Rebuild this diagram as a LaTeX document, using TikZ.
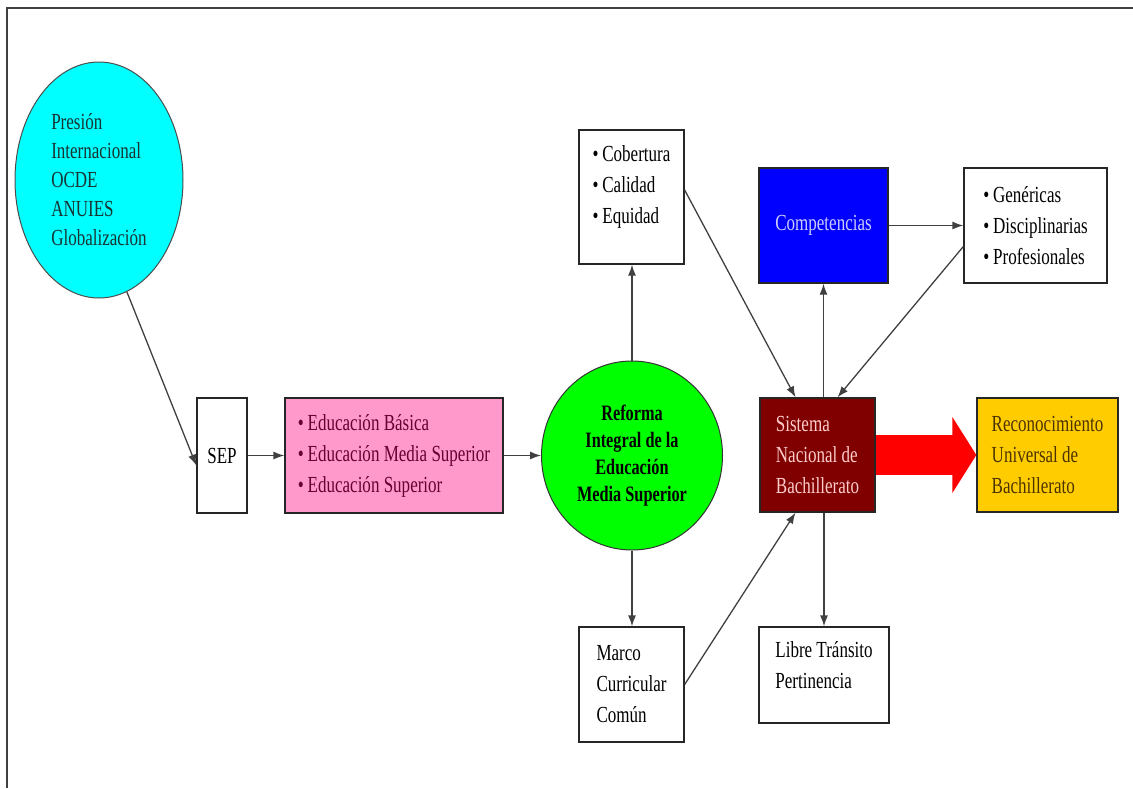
\documentclass[tikz,border=0pt]{standalone}
\usepackage{fontspec}
\setmainfont{Liberation Serif}[FakeStretch=0.74]
\usetikzlibrary{arrows.meta,shapes.geometric,calc}
\definecolor{pinkfill}{HTML}{FF99CC}
\definecolor{pinktext}{HTML}{660033}
\definecolor{snbfill}{HTML}{800000}
\definecolor{snbtext}{HTML}{FFCCCC}
\definecolor{compfill}{HTML}{0000FF}
\definecolor{comptext}{HTML}{CCCCFF}
\definecolor{rucfill}{HTML}{FFCC00}
\definecolor{ructext}{HTML}{4D3300}
\definecolor{cyanfill}{HTML}{00FFFF}
\definecolor{greenfill}{HTML}{00FF00}
\definecolor{elltext}{HTML}{1A3333}
\begin{document}
\begin{tikzpicture}[x=1pt,y=-1pt,
  box/.style={rectangle, draw=black!85, line width=1.3pt, inner sep=0pt, align=left,
    font=\fontsize{23}{31}\selectfont},
  conn/.style={draw=black!75, line width=1.3pt, -{Latex[length=11pt,width=8pt]}},
  bigarrow/.style={draw=red, line width=40pt, -{Triangle[length=24pt,width=75pt]}}
]
\useasboundingbox (0,0) rectangle (1133,788);
\draw[black!75, line width=2pt] (7,788) -- (7,8) -- (1133,8);

\node[ellipse, draw=black!70, line width=1pt, fill=cyanfill, inner sep=0pt,
  minimum width=168pt, minimum height=236pt, align=left,
  font=\fontsize{23}{29}\selectfont, text=elltext] (ell) at (99,180)
  {Presión\\Internacional\\OCDE\\ANUIES\\Globalización};

\node[box, minimum width=50pt, minimum height=115pt] (sep) at (222,455.5) {SEP};

\node[box, fill=pinkfill, text=pinktext, minimum width=218pt, minimum height=115pt]
  (pink) at (394,455.5)
  {\textbullet\,Educación Básica\\\textbullet\,Educación Media Superior\\\textbullet\,Educación Superior};

\node[ellipse, draw=black!80, line width=1pt, fill=greenfill, inner sep=0pt,
  minimum width=181pt, minimum height=189pt, align=center,
  font=\fontsize{22}{27}\selectfont\bfseries] (circ) at (632,455.5)
  {Reforma\\Integral de la\\Educación\\Media Superior};

\node[box, minimum width=105pt, minimum height=134pt, text depth=24pt] (cob) at (631.5,197)
  {\textbullet\,Cobertura\\\textbullet\,Calidad\\\textbullet\,Equidad};

\node[box, fill=compfill, text=comptext, minimum width=129pt, minimum height=115pt]
  (comp) at (823.5,225.5) {Competencias};

\node[box, minimum width=143pt, minimum height=115pt] (gen) at (1035.5,225.5)
  {\textbullet\,Genéricas\\\textbullet\,Disciplinarias\\\textbullet\,Profesionales};

\node[box, fill=snbfill, text=snbtext, minimum width=115pt, minimum height=114pt]
  (snb) at (817.5,455) {Sistema\\Nacional de\\Bachillerato};

\node[box, fill=rucfill, text=ructext, minimum width=141pt, minimum height=114pt]
  (ruc) at (1047.5,455) {Reconocimiento\\Universal de\\Bachillerato};

\node[box, minimum width=105pt, minimum height=115pt] (marco) at (631.5,684.5)
  {Marco\\Curricular\\Común};

\node[box, minimum width=130pt, minimum height=96pt, text depth=21pt] (libre) at (824,675)
  {Libre Tránsito\\Pertinencia};

% connectors
\draw[conn] (ell.-76) -- ($(sep.west)+(0,10)$);
\draw[conn] (sep.east) -- (pink.west);
\draw[conn] (pink.east) -- (circ.west);
\draw[conn] (circ.north) -- (circ.north |- cob.south);
\draw[conn] (circ.south) -- (circ.south |- marco.north);
\draw[conn] ($(cob.east)+(0,-7)$) -- ($(snb.north)+(-22,0)$);
\draw[conn] (snb.north -| comp.south) -- (comp.south);
\draw[conn] (comp.east) -- (gen.west);
\draw[conn] ($(gen.west)+(0,21)$) -- ($(snb.north)+(20,0)$);
\draw[conn] (marco.east) -- ($(snb.south)+(-22,0)$);
\draw[conn] (snb.south -| libre.north) -- (libre.north);
\draw[bigarrow] (snb.east) -- (ruc.west);
\end{tikzpicture}
\end{document}
